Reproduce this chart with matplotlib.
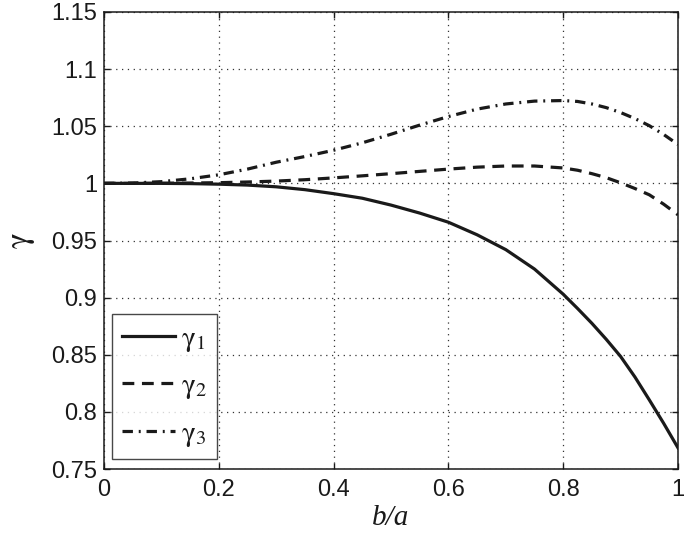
import matplotlib
matplotlib.use("Agg")
import matplotlib.pyplot as plt

# ---- data ----
x = [0.00, 0.05, 0.10, 0.15, 0.20, 0.25, 0.30, 0.35, 0.40, 0.45, 0.50,
     0.55, 0.60, 0.65, 0.70, 0.75, 0.80, 0.825, 0.85, 0.875, 0.90,
     0.925, 0.95, 0.975, 1.00]
gamma1 = [1.0000, 1.0000, 1.0000, 0.9998, 0.9993, 0.9985, 0.9970, 0.9945,
          0.9910, 0.9870, 0.9810, 0.9740, 0.9660, 0.9550, 0.9420, 0.9250,
          0.9030, 0.8905, 0.8775, 0.8635, 0.8485, 0.8305, 0.8105, 0.7900,
          0.7685]
gamma2 = [1.0000, 1.0000, 1.0001, 1.0003, 1.0006, 1.0012, 1.0020, 1.0032,
          1.0048, 1.0066, 1.0085, 1.0105, 1.0125, 1.0142, 1.0152, 1.0152,
          1.0135, 1.0115, 1.0085, 1.0050, 1.0005, 0.9955, 0.9900, 0.9818,
          0.9725]
gamma3 = [1.0000, 1.0003, 1.0015, 1.0040, 1.0075, 1.0125, 1.0185, 1.0235,
          1.0290, 1.0355, 1.0430, 1.0510, 1.0585, 1.0650, 1.0695, 1.0720,
          1.0725, 1.0717, 1.0695, 1.0663, 1.0620, 1.0567, 1.0505, 1.0428,
          1.0340]
labels = [r'$\mathrm{\gamma}_{\mathit{1}}$', r'$\mathrm{\gamma}_{2}$', r'$\mathrm{\gamma}_{\mathit{3}}$']
xticks = [0, 0.2, 0.4, 0.6, 0.8, 1]
xticklabels = ['0', '0.2', '0.4', '0.6', '0.8', '1']
yticks = [0.75, 0.8, 0.85, 0.9, 0.95, 1.0, 1.05, 1.1, 1.15]
yticklabels = ['0.75', '0.8', '0.85', '0.9', '0.95', '1', '1.05', '1.1', '1.15']

plt.rcParams['font.family'] = ['Liberation Sans', 'DejaVu Sans']
plt.rcParams['mathtext.fontset'] = 'stix'
plt.rcParams['lines.scale_dashes'] = False

fig = plt.figure(figsize=(6.85, 5.36), dpi=100)
ax = fig.add_axes([104/685, 1-469/536, (678-104)/685, (469-12)/536])

lc = '#1a1a1a'
ax.plot(x, gamma1, color=lc, lw=2.3, linestyle='-', label=labels[0])
ax.plot(x, gamma2, color=lc, lw=2.3, linestyle=(0, (8.5, 5.5)), label=labels[1])
ax.plot(x, gamma3, color=lc, lw=2.3, linestyle=(0, (7.5, 4.2, 1.4, 4.2)), label=labels[2])

ax.set_xlim(0, 1)
ax.set_ylim(0.75, 1.15)
ax.set_xticks(xticks)
ax.set_xticklabels(xticklabels)
ax.set_yticks(yticks)
ax.set_yticklabels(yticklabels)
ax.tick_params(direction='in', length=4, width=1, top=True, right=True,
               labelsize=17, colors='#1a1a1a')
ax.tick_params(axis='x', pad=7)
ax.tick_params(axis='y', pad=5)
ax.grid(True, color='#333333', lw=0.9, linestyle=(0, (0.9, 3.3)))
for s in ax.spines.values():
    s.set_linewidth(1.1)
    s.set_color('#1a1a1a')

ax.set_xlabel('b/a', family='Liberation Serif', style='italic', fontsize=21, color='#1a1a1a')
ax.xaxis.set_label_coords(0.5, -(505-469)/457)
ax.set_ylabel(r'$\mathrm{\gamma}$', fontsize=24, color='#1a1a1a')
ax.yaxis.set_label_coords((37-104)/574, 0.5)

leg = ax.legend(loc='lower left', bbox_to_anchor=(8/574, 10/457), fontsize=21,
                frameon=True, fancybox=False, handlelength=1.8, handletextpad=0.22,
                borderpad=0.35, labelspacing=0.6, borderaxespad=0)
leg.get_frame().set_edgecolor('#1a1a1a')
leg.get_frame().set_linewidth(1.0)
for t in leg.get_texts():
    t.set_color('#1a1a1a')

fig.savefig('out.png', dpi=100)
